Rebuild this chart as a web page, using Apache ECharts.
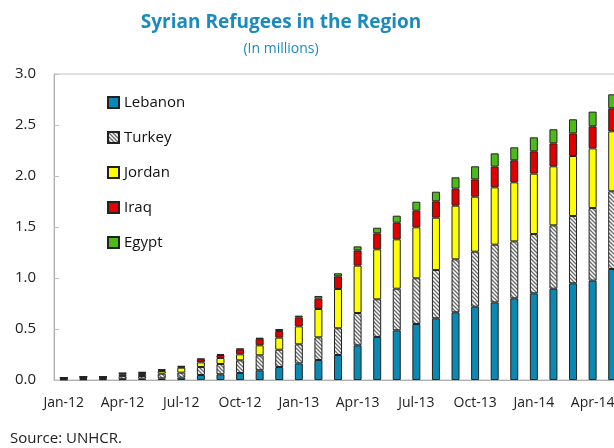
<!DOCTYPE html>
<html>
<head>
<meta charset="utf-8">
<style>
  html, body { margin: 0; padding: 0; background: #fff; }
  #chart { width: 614px; height: 448px; }
</style>
<script src="https://cdn.jsdelivr.net/npm/echarts@6/dist/echarts.min.js"></script>
</head>
<body>
<div id="chart"></div>
<script>
const months = [
  'Jan-12', 'Feb-12', 'Mar-12', 'Apr-12', 'May-12', 'Jun-12', 'Jul-12', 'Aug-12', 'Sep-12', 'Oct-12',
  'Nov-12', 'Dec-12', 'Jan-13', 'Feb-13', 'Mar-13', 'Apr-13', 'May-13', 'Jun-13', 'Jul-13', 'Aug-13',
  'Sep-13', 'Oct-13', 'Nov-13', 'Dec-13', 'Jan-14', 'Feb-14', 'Mar-14', 'Apr-14', 'May-14'
]
const lebanon = [0.005, 0.007, 0.008, 0.008, 0.013, 0.016, 0.023, 0.049, 0.056, 0.069,
  0.095, 0.127, 0.163, 0.196, 0.245, 0.340, 0.422, 0.487, 0.549, 0.605,
  0.664, 0.719, 0.761, 0.801, 0.850, 0.895, 0.948, 0.974, 1.088]
const turkey = [0.009, 0.012, 0.012, 0.030, 0.026, 0.046, 0.049, 0.078, 0.101, 0.124,
  0.147, 0.170, 0.187, 0.222, 0.262, 0.317, 0.369, 0.408, 0.448, 0.473,
  0.519, 0.539, 0.566, 0.558, 0.581, 0.621, 0.660, 0.712, 0.762]
const jordan = [0.005, 0.007, 0.007, 0.015, 0.020, 0.026, 0.049, 0.046, 0.059, 0.059,
  0.098, 0.118, 0.176, 0.278, 0.385, 0.464, 0.490, 0.484, 0.500, 0.513,
  0.526, 0.539, 0.562, 0.579, 0.592, 0.579, 0.588, 0.585, 0.588]
const iraq = [0.003, 0.005, 0.004, 0.012, 0.013, 0.010, 0.009, 0.030, 0.029, 0.049,
  0.065, 0.065, 0.088, 0.101, 0.124, 0.150, 0.157, 0.163, 0.163, 0.161,
  0.167, 0.170, 0.203, 0.216, 0.219, 0.225, 0.222, 0.216, 0.226]
const egypt = [0.001, 0.002, 0.002, 0.004, 0.006, 0.007, 0.007, 0.006, 0.010, 0.006,
  0.007, 0.020, 0.017, 0.027, 0.030, 0.039, 0.055, 0.069, 0.088, 0.094,
  0.111, 0.128, 0.130, 0.127, 0.137, 0.138, 0.138, 0.144, 0.137]

const font = 'Open Sans'
const chart = echarts.init(document.getElementById('chart'))

// "\" hatch tile for Turkey
function hatch() {
  const c = document.createElement('canvas')
  c.width = 4
  c.height = 4
  const ctx = c.getContext('2d')
  ctx.fillStyle = '#fff'
  ctx.fillRect(0, 0, 4, 4)
  ctx.strokeStyle = '#6a6a6a'
  ctx.lineWidth = 1.3
  ctx.beginPath()
  ctx.moveTo(-1, -1); ctx.lineTo(5, 5)
  ctx.moveTo(-1, 3); ctx.lineTo(1, 5)
  ctx.moveTo(3, -1); ctx.lineTo(5, 1)
  ctx.stroke()
  return { image: c, repeat: 'repeat' }
}

function bar(name, data, color) {
  return {
    name: name,
    type: 'bar',
    stack: 'total',
    data: data,
    barWidth: 8,
    itemStyle: { color: color, borderColor: '#222', borderWidth: 1 }
  }
}

chart.setOption({
  animation: false,
  title: {
    text: 'Syrian Refugees in the Region',
    subtext: '(In millions)',
    left: 276,
    textAlign: 'center',
    top: 8,
    itemGap: 10,
    textStyle: { fontFamily: font, fontSize: 19, fontWeight: 'bold', color: '#1b8bbd' },
    subtextStyle: { fontFamily: font, fontSize: 14, color: '#1b8bbd' }
  },
  legend: {
    orient: 'vertical',
    left: 102,
    top: 90,
    itemWidth: 11,
    itemHeight: 11,
    itemGap: 20,
    icon: 'rect',
    textStyle: { fontFamily: font, fontSize: 15, color: '#111' }
  },
  grid: {
    left: 54,
    width: 568,
    top: 74,
    bottom: 68,
    outerBoundsMode: 'none',
    containLabel: false,
    show: true,
    borderColor: '#c0c0c0',
    borderWidth: 1
  },
  xAxis: {
    type: 'category',
    data: months,
    axisLine: { lineStyle: { color: '#b0b0b0' } },
    axisTick: { inside: true, length: 5, interval: 2, lineStyle: { color: '#c0c0c0' } },
    axisLabel: { interval: 2, margin: 16, fontFamily: font, fontSize: 14, color: '#222' }
  },
  yAxis: {
    type: 'value',
    min: 0,
    max: 3,
    interval: 0.5,
    splitLine: { show: false },
    axisLine: { show: true, lineStyle: { color: '#b0b0b0' } },
    axisTick: { show: true, inside: true, length: 5, lineStyle: { color: '#c0c0c0' } },
    axisLabel: { margin: 18, fontFamily: font, fontSize: 15, color: '#222', formatter: v => v.toFixed(1) }
  },
  series: [
    bar('Lebanon', lebanon, '#0a8ab2'),
    bar('Turkey', turkey, hatch()),
    bar('Jordan', jordan, '#ffff00'),
    bar('Iraq', iraq, '#e00000'),
    bar('Egypt', egypt, '#4cbb17')
  ],
  graphic: [{
    type: 'text',
    left: 10,
    top: 431,
    style: { text: 'Source: UNHCR.', fontFamily: font, fontSize: 15, fill: '#222' }
  }]
})
</script>
</body>
</html>
